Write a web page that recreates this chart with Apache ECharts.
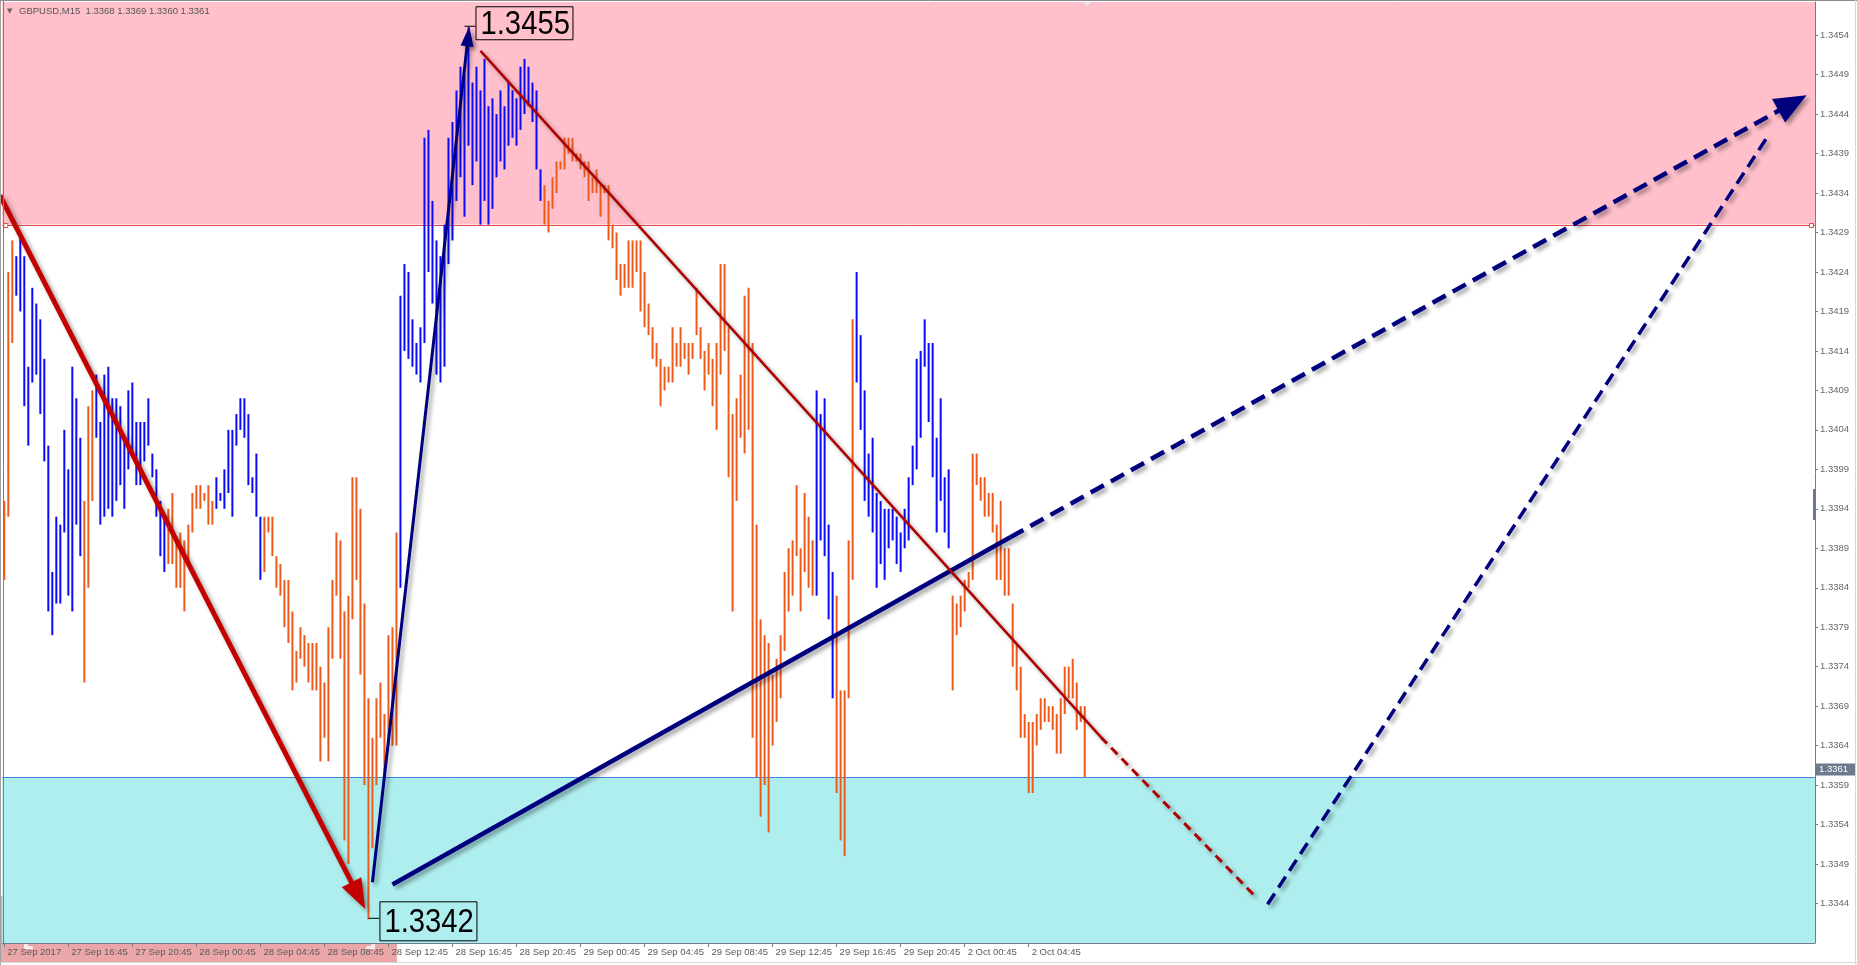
<!DOCTYPE html>
<html><head><meta charset="utf-8">
<script src="https://cdn.jsdelivr.net/npm/echarts@6/dist/echarts.min.js"></script>
<style>html,body{margin:0;padding:0;background:#fff;overflow:hidden}#c{width:1857px;height:965px}</style>
</head><body><div id="c"></div>
<script>
// ---------------- DATA ----------------
const symbolTitle = 'GBPUSD,M15';
const lastOHLC = [1.3368, 1.3369, 1.3360, 1.3361];
const tickLabels = ['27 Sep 2017','27 Sep 16:45','27 Sep 20:45','28 Sep 00:45','28 Sep 04:45','28 Sep 08:45',
  '28 Sep 12:45','28 Sep 16:45','28 Sep 20:45','29 Sep 00:45','29 Sep 04:45','29 Sep 08:45','29 Sep 12:45',
  '29 Sep 16:45','29 Sep 20:45','2 Oct 00:45','2 Oct 04:45'];
const barsPerLabel = 16;
const slotCount = 453;
const highs = [
1.3395,1.3424,1.3428,1.3426,1.3429,1.3426,1.3412,1.3422,1.3420,1.3418,
1.3413,1.3402,1.3386,1.3393,1.3392,1.3404,1.3399,1.3412,1.3408,1.3403,
1.3395,1.3407,1.3409,1.3411,1.3405,1.3411,1.3412,1.3408,1.3408,1.3407,
1.3403,1.3409,1.3410,1.3405,1.3405,1.3405,1.3408,1.3401,1.3399,1.3395,
1.3393,1.3394,1.3396,1.3390,1.3391,1.3390,1.3392,1.3396,1.3397,1.3397,
1.3396,1.3397,1.3395,1.3398,1.3396,1.3399,1.3404,1.3404,1.3406,1.3408,
1.3408,1.3406,1.3398,1.3401,1.3393,1.3393,1.3393,1.3393,1.3388,1.3387,
1.3385,1.3385,1.3381,1.3376,1.3379,1.3378,1.3377,1.3377,1.3377,1.3374,
1.3372,1.3379,1.3385,1.3391,1.3390,1.3381,1.3383,1.3398,1.3398,1.3394,
1.3382,1.3370,1.3365,1.3370,1.3372,1.3368,1.3378,1.3379,1.3391,1.3421,
1.3425,1.3424,1.3418,1.3415,1.3417,1.3441,1.3442,1.3433,1.3428,1.3426,
1.3430,1.3441,1.3443,1.3447,1.3450,1.3449,1.3455,1.3448,1.3450,1.3447,
1.3451,1.3445,1.3446,1.3444,1.3447,1.3445,1.3448,1.3447,1.3446,1.3450,
1.3451,1.3450,1.3448,1.3447,1.3437,1.3435,1.3433,1.3436,1.3438,1.3438,
1.3441,1.3441,1.3441,1.3439,1.3439,1.3438,1.3438,1.3436,1.3437,1.3435,
1.3435,1.3435,1.3430,1.3429,1.3425,1.3425,1.3428,1.3428,1.3428,1.3428,
1.3424,1.3420,1.3417,1.3415,1.3413,1.3412,1.3412,1.3417,1.3415,1.3417,
1.3415,1.3415,1.3415,1.3422,1.3417,1.3414,1.3415,1.3413,1.3415,1.3425,
1.3425,1.3417,1.3406,1.3408,1.3411,1.3421,1.3422,1.3415,1.3392,1.3380,
1.3378,1.3377,1.3373,1.3375,1.3378,1.3386,1.3389,1.3390,1.3397,1.3389,
1.3396,1.3393,1.3390,1.3409,1.3406,1.3408,1.3392,1.3386,1.3383,1.3371,
1.3371,1.3390,1.3418,1.3424,1.3416,1.3409,1.3401,1.3403,1.3396,1.3395,
1.3394,1.3394,1.3394,1.3393,1.3391,1.3394,1.3398,1.3402,1.3413,1.3414,
1.3418,1.3415,1.3415,1.3403,1.3408,1.3398,1.3399,1.3383,1.3382,1.3383,
1.3385,1.3386,1.3401,1.3401,1.3398,1.3398,1.3396,1.3396,1.3392,1.3395,
1.3389,1.3389,1.3382,1.3377,1.3374,1.3368,1.3367,1.3367,1.3368,1.3370,
1.3370,1.3369,1.3369,1.3368,1.3370,1.3374,1.3374,1.3375,1.3372,1.3369,
1.3369];
const lows = [
1.3385,1.3393,1.3415,1.3421,1.3419,1.3407,1.3402,1.3410,1.3411,1.3406,
1.3400,1.3381,1.3378,1.3382,1.3382,1.3391,1.3383,1.3381,1.3392,1.3388,
1.3372,1.3384,1.3395,1.3403,1.3392,1.3393,1.3394,1.3393,1.3395,1.3397,
1.3394,1.3399,1.3401,1.3397,1.3397,1.3400,1.3402,1.3398,1.3393,1.3388,
1.3386,1.3387,1.3387,1.3384,1.3384,1.3381,1.3387,1.3391,1.3394,1.3394,
1.3395,1.3392,1.3392,1.3394,1.3395,1.3394,1.3396,1.3393,1.3402,1.3404,
1.3403,1.3397,1.3396,1.3393,1.3385,1.3386,1.3391,1.3388,1.3384,1.3383,
1.3379,1.3377,1.3371,1.3372,1.3375,1.3374,1.3372,1.3371,1.3371,1.3362,
1.3365,1.3362,1.3375,1.3383,1.3375,1.3352,1.3349,1.3380,1.3385,1.3373,
1.3359,1.3342,1.3351,1.3359,1.3365,1.3360,1.3364,1.3364,1.3364,1.3384,
1.3414,1.3413,1.3412,1.3411,1.3410,1.3415,1.3424,1.3420,1.3411,1.3410,
1.3412,1.3425,1.3428,1.3433,1.3436,1.3431,1.3440,1.3435,1.3438,1.3430,
1.3433,1.3430,1.3432,1.3436,1.3438,1.3437,1.3440,1.3441,1.3440,1.3442,
1.3444,1.3445,1.3443,1.3437,1.3433,1.3430,1.3429,1.3432,1.3434,1.3437,
1.3437,1.3439,1.3438,1.3438,1.3437,1.3436,1.3433,1.3434,1.3434,1.3431,
1.3434,1.3428,1.3427,1.3423,1.3421,1.3422,1.3422,1.3422,1.3424,1.3419,
1.3417,1.3416,1.3413,1.3412,1.3407,1.3409,1.3410,1.3410,1.3412,1.3412,
1.3413,1.3411,1.3413,1.3416,1.3413,1.3409,1.3411,1.3407,1.3404,1.3411,
1.3414,1.3398,1.3381,1.3395,1.3403,1.3401,1.3404,1.3365,1.3360,1.3355,
1.3359,1.3353,1.3364,1.3367,1.3370,1.3376,1.3381,1.3383,1.3388,1.3381,
1.3386,1.3384,1.3383,1.3383,1.3390,1.3388,1.3380,1.3370,1.3358,1.3352,
1.3350,1.3370,1.3385,1.3410,1.3404,1.3395,1.3393,1.3391,1.3384,1.3387,
1.3385,1.3389,1.3390,1.3387,1.3386,1.3389,1.3390,1.3397,1.3399,1.3403,
1.3412,1.3405,1.3398,1.3391,1.3395,1.3391,1.3389,1.3371,1.3378,1.3379,
1.3381,1.3384,1.3385,1.3397,1.3395,1.3393,1.3393,1.3391,1.3385,1.3385,
1.3383,1.3383,1.3374,1.3371,1.3365,1.3365,1.3358,1.3358,1.3364,1.3366,
1.3367,1.3367,1.3366,1.3363,1.3363,1.3368,1.3370,1.3370,1.3366,1.3367,
1.3360];
// wave colouring: [first bar index, direction]
const waveRuns = [[0,'down'],[3,'up'],[20,'down'],[23,'up'],[41,'down'],[53,'up'],[65,'down'],
  [99,'up'],[135,'down'],[203,'up'],[208,'down'],[213,'up'],[237,'down']];
const resistanceZone = [1.3430, 1.34582];
const supportZone = [1.3339, 1.3360];
// wave drawings: [bar index, price]
const redImpulse = [[-1.1, 1.34337], [90.2, 1.33433]];
const blueImpulse = [[92, 1.33467], [116.2, 1.34551]];
const blueTrend = [[97, 1.33464], [251.4, 1.33904]];
const blueProjection = [[251.4, 1.33904], [450.4, 1.34464]];
const redTrend = [[119, 1.34520], [274, 1.33651]];
const redProjection = [[274, 1.33651], [313, 1.33447]];
const blueProjection2 = [[315.7, 1.33439], [440.7, 1.34412]];
const extremes = [[116, 1.3455], [91, 1.3342]];

// ---------------- CHART ----------------
const FONT = '"Liberation Sans", Arial, sans-serif';
const chart = echarts.init(document.getElementById('c'), null, {renderer: 'canvas'});
const cats = Array.from({length: slotCount}, (_, i) => String(i));
const isLabelSlot = (i) => i % barsPerLabel === 0 && i / barsPerLabel < tickLabels.length;
function dirAt(i) { let d = 'down'; for (const [s, w] of waveRuns) if (i >= s) d = w; return d; }
const barData = highs.map((h, i) => [i, lows[i], h, dirAt(i) === 'up' ? 1 : 0]);

function toPx(api, x, p) {
  const a = api.coord([0, p]), b = api.coord([1, p]);
  return [a[0] + (b[0] - a[0]) * x, a[1]];
}
const SH = {shadowBlur: 4, shadowColor: 'rgba(0,0,0,0.38)', shadowOffsetX: 3, shadowOffsetY: 3};
const drawings = [
  {pts: redImpulse, color: '#c40000', width: 5, head: [30, 22]},
  {pts: blueImpulse, color: '#00007f', width: 3, head: [20, 13]},
  {pts: blueTrend, color: '#00007f', width: 4.5},
  {pts: blueProjection, color: '#00007f', width: 4.5, dash: [15, 8], head: [32, 27]},
  {pts: redTrend, color: '#b00000', width: 2.5},
  {pts: redProjection, color: '#b00000', width: 3, dash: [9, 6]},
  {pts: blueProjection2, color: '#00007f', width: 3.5, dash: [13, 7]}
];
// level lines: [slot, price, kind] kind 0 = resistance edge, 1 = support edge, 2 = bid label
const levelData = [[0, resistanceZone[0], 0], [0, supportZone[1], 1], [0, lastOHLC[3], 2]];

const option = {
  animation: false,
  backgroundColor: '#ffffff',
  grid: {left: 2.3, right: 42, top: 2, bottom: 22, show: false},
  xAxis: {
    type: 'category', data: cats, boundaryGap: true,
    axisLine: {show: true, lineStyle: {color: '#6f7c8a', width: 1}},
    axisTick: {show: true, alignWithLabel: true, interval: (i) => isLabelSlot(i), length: 4, lineStyle: {color: '#6f7c8a'}},
    axisLabel: {show: true, interval: (i) => isLabelSlot(i), formatter: (v, i) => tickLabels[i / barsPerLabel] || '',
      align: 'left', margin: 4, padding: [0, 0, 0, 3], fontSize: 9.5, color: '#5a5a5a', fontFamily: FONT},
    splitLine: {show: false}
  },
  yAxis: {
    type: 'value', position: 'right', min: supportZone[0], max: resistanceZone[1], interval: 0.0005, scale: true,
    axisLine: {show: true, lineStyle: {color: '#6f7c8a', width: 1}},
    axisTick: {show: true, length: 3, lineStyle: {color: '#6f7c8a'}},
    axisLabel: {show: true, formatter: (v) => v.toFixed(4), showMinLabel: false, showMaxLabel: false,
      margin: 5, fontSize: 9.5, color: '#666', fontFamily: FONT},
    splitLine: {show: false}
  },
  series: [
    { // zones
      type: 'line', z: 1, silent: true, data: [[0, supportZone[1]]], showSymbol: false, symbol: 'none',
      lineStyle: {opacity: 0},
      markArea: {silent: true, data: [
        [{yAxis: resistanceZone[0], itemStyle: {color: '#ffc0cb'}}, {yAxis: resistanceZone[1]}],
        [{yAxis: supportZone[0], itemStyle: {color: '#afeeee'}}, {yAxis: supportZone[1]}]
      ]}
    },
    { // zone edge lines + bid label
      type: 'custom', z: 2, silent: true, data: levelData, encode: {x: 0, y: 1}, clip: false,
      renderItem: (params, api) => {
        const cs = params.coordSys;
        const y = Math.round(api.coord([0, api.value(1)])[1]) + 0.5;
        const kind = api.value(2);
        const x0 = cs.x, x1 = cs.x + cs.width;
        if (kind === 0) {
          return {type: 'group', children: [
            {type: 'line', shape: {x1: x0, y1: y, x2: x1, y2: y}, style: {stroke: '#e24a4a', lineWidth: 1}},
            {type: 'rect', shape: {x: x0 + 1.5, y: y - 2, width: 4, height: 4}, style: {fill: '#ffffff', stroke: '#e24a4a', lineWidth: 1}},
            {type: 'rect', shape: {x: x1 - 5.5, y: y - 2, width: 4, height: 4}, style: {fill: '#ffffff', stroke: '#e24a4a', lineWidth: 1}}
          ]};
        }
        if (kind === 1) {
          return {type: 'line', shape: {x1: x0, y1: y, x2: x1, y2: y}, style: {stroke: '#3d86e0', lineWidth: 1}};
        }
        return {type: 'group', z2: 10, children: [
          {type: 'rect', shape: {x: x1 + 1, y: y - 6, width: 39, height: 12}, style: {fill: '#6b7b8c'}},
          {type: 'text', x: x1 + 4, y: y, style: {text: api.value(1).toFixed(4), fontSize: 9.5, fontFamily: FONT,
            fill: '#ffffff', align: 'left', verticalAlign: 'middle'}}
        ]};
      }
    },
    { // OHLC bars (high-low)
      type: 'custom', z: 3, data: barData, encode: {x: 0, y: [1, 2]},
      renderItem: (params, api) => {
        const i = api.value(0);
        const top = api.coord([i, api.value(2)]);
        const bot = api.coord([i, api.value(1)]);
        return {type: 'rect', shape: {x: top[0] - 1, y: top[1], width: 2, height: Math.max(1, bot[1] - top[1])},
          style: {fill: api.value(3) ? '#0a0aff' : '#f05a19'}};
      }
    },
    { // wave lines
      type: 'custom', z: 5, data: drawings.map((d, k) => [Math.max(0, Math.round(d.pts[0][0])), d.pts[0][1], k]),
      encode: {x: 0, y: 1},
      renderItem: (params, api) => {
        const d = drawings[api.value(2)];
        const a = toPx(api, d.pts[0][0], d.pts[0][1]);
        const b = toPx(api, d.pts[1][0], d.pts[1][1]);
        const children = [];
        let end = b;
        if (d.head) {
          const dx = b[0] - a[0], dy = b[1] - a[1], len = Math.hypot(dx, dy);
          const ux = dx / len, uy = dy / len, L = d.head[0], W = d.head[1];
          const bx = b[0] - ux * L, by = b[1] - uy * L;
          end = [b[0] - ux * L * 0.6, b[1] - uy * L * 0.6];
          children.push({type: 'polygon', z2: 2, shape: {points: [b, [bx - uy * W / 2, by + ux * W / 2], [bx + uy * W / 2, by - ux * W / 2]]},
            style: Object.assign({fill: d.color}, SH)});
        }
        children.unshift({type: 'line', z2: 1, shape: {x1: a[0], y1: a[1], x2: end[0], y2: end[1]},
          style: Object.assign({stroke: d.color, lineWidth: d.width, lineDash: d.dash || null, lineCap: 'butt'}, SH)});
        return {type: 'group', children};
      }
    },
    { // extreme labels
      type: 'custom', z: 6, data: extremes.map((e, k) => [e[0], e[1], k]), encode: {x: 0, y: 1},
      renderItem: (params, api) => {
        const k = api.value(2);
        const p = api.coord([api.value(0), api.value(1)]);
        const txt = api.value(1).toFixed(4);
        const isHigh = k === 0;
        const bx = isHigh ? p[0] + 7 : p[0] + 11;
        const by = isHigh ? p[1] - 21 : p[1] - 18;
        const bh = isHigh ? 33 : 39;
        return {type: 'group', children: [
          {type: 'line', shape: {x1: p[0] - (isHigh ? 4 : 0), y1: p[1] - 1, x2: bx, y2: p[1] - 1}, style: {stroke: '#000', lineWidth: 1}},
          {type: 'rect', shape: {x: bx + 0.5, y: by + 0.5, width: 97, height: bh}, style: {fill: null, stroke: '#000', lineWidth: 1}},
          {type: 'text', x: bx + 5, y: by + bh / 2 + 2, scaleX: 0.86, style: {text: txt, x: 0, y: 0, fontSize: 34, fontFamily: FONT,
            fill: '#000', align: 'left', verticalAlign: 'middle'}}
        ]};
      }
    }
  ],
  graphic: [
    {type: 'line', z: 50, shape: {x1: 3.5, y1: 0, x2: 3.5, y2: 943}, style: {stroke: '#7d7d7d', lineWidth: 1}},
    {type: 'line', z: 50, shape: {x1: 0.5, y1: 0, x2: 0.5, y2: 965}, style: {stroke: '#a0a0a0', lineWidth: 1}},
    {type: 'line', z: 50, shape: {x1: 0, y1: 0.5, x2: 1857, y2: 0.5}, style: {stroke: '#8a8a8a', lineWidth: 1}},
    {type: 'line', z: 50, shape: {x1: 1855.5, y1: 0, x2: 1855.5, y2: 965}, style: {stroke: '#d8d8d8', lineWidth: 1}},
    {type: 'line', z: 50, shape: {x1: 0, y1: 962.5, x2: 1857, y2: 962.5}, style: {stroke: '#d8d8d8', lineWidth: 1}},
    {type: 'rect', z: 50, shape: {x: 1813, y: 489, width: 3, height: 31}, style: {fill: '#6b7b8c'}},
    {type: 'polygon', z: 50, shape: {points: [[1083, 2], [1091, 2], [1087, 6]]}, style: {fill: '#e8e8e8'}},
    {type: 'text', z: 50, x: 7, y: 11, style: {text: '▼', fontSize: 7, fontFamily: '"DejaVu Sans"', fill: '#666', verticalAlign: 'middle'}},
    {type: 'text', z: 50, x: 19, y: 11, style: {text: symbolTitle + '  ' + lastOHLC.map(v => v.toFixed(4)).join(' '),
      fontSize: 9.5, fontFamily: FONT, fill: '#555', verticalAlign: 'middle'}},
    // watermark
    {type: 'group', z: 100, children: [
      {type: 'rect', shape: {x: 0, y: 896, width: 397, height: 67}, style: {fill: 'rgba(214,72,72,0.48)'}},
      {type: 'text', x: 21, y: 928, style: {text: '[', fontSize: 44, fontFamily: FONT, fill: 'rgba(255,255,255,0.78)', verticalAlign: 'middle'}},
      {type: 'text', x: 52, y: 922, style: {text: 'www.instaforex', fontSize: 37, fontFamily: FONT, fill: 'rgba(255,255,255,0.78)', verticalAlign: 'middle'}},
      {type: 'text', x: 302, y: 926, style: {text: '.com', fontSize: 27, fontFamily: FONT, fill: 'rgba(255,255,255,0.78)', verticalAlign: 'middle'}},
      {type: 'text', x: 366, y: 928, style: {text: ']', fontSize: 44, fontFamily: FONT, fill: 'rgba(255,255,255,0.78)', verticalAlign: 'middle'}}
    ]}
  ]
};
chart.setOption(option);
</script>
</body></html>
